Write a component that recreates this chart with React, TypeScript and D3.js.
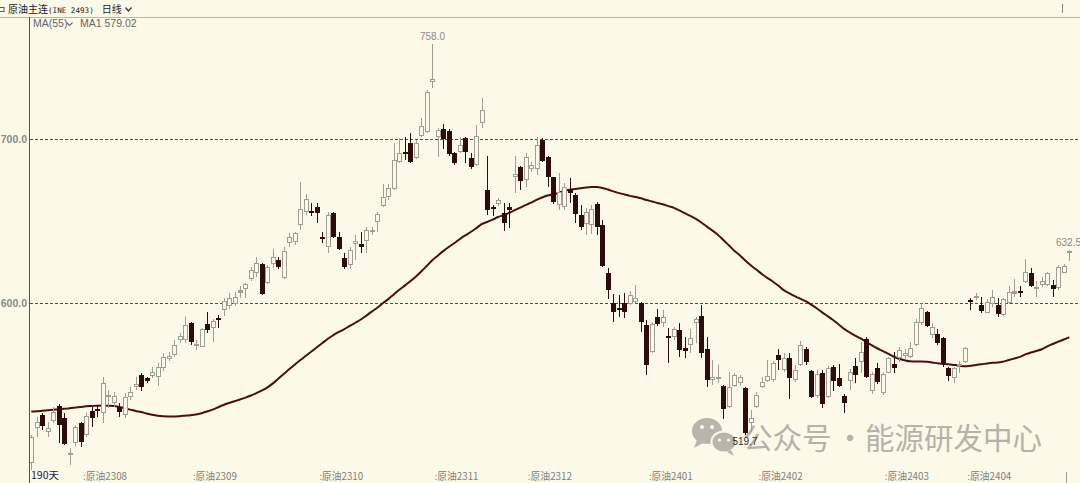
import React from 'react';
import * as d3 from 'd3';

const W = 1080;
const H = 483;
const BG = '#fdf9e8';

const opens = [
  502.4, 523.8, 531.7, 521.5, 528.0, 537.4, 529.7, 507.3, 514.4, 526.6,
  519.5, 534.3, 535.5, 532.7, 542.5, 539.2, 536.8, 531.7, 542.5, 548.6,
  556.1, 554.1, 555.5, 555.1, 560.2, 565.7, 568.3, 577.4, 577.4, 588.0,
  574.0, 573.4, 587.2, 584.5, 591.0, 595.7, 598.4, 599.4, 606.3, 608.5,
  614.6, 618.1, 623.8, 612.0, 623.8, 626.2, 615.1, 636.8, 637.4, 647.6,
  655.7, 656.3, 658.4, 640.1, 634.3, 654.7, 640.4, 627.3, 623.2, 636.0,
  636.0, 638.0, 643.3, 649.6, 659.1, 664.8, 669.3, 686.2, 692.1, 697.4,
  688.2, 701.8, 704.5, 734.9, 701.4, 706.1, 705.1, 691.6, 692.3, 700.4,
  688.2, 684.1, 709.6, 668.9, 658.4, 660.4, 654.7, 658.4, 677.0, 683.1,
  675.0, 681.5, 681.5, 699.4, 689.2, 676.6, 659.8, 658.7, 669.3, 665.9,
  653.7, 648.2, 647.6, 660.4, 647.6, 618.5, 600.2, 596.8, 600.2, 599.4,
  600.8, 600.2, 586.6, 570.3, 591.3, 588.0, 579.6, 579.1, 583.5, 572.4,
  574.4, 588.0, 592.1, 571.8, 553.0, 554.0, 549.4, 536.4, 549.4, 551.4,
  548.0, 526.6, 536.8, 549.0, 552.6, 553.0, 568.3, 559.1, 566.7, 553.0,
  562.2, 571.8, 558.7, 543.3, 557.1, 542.9, 560.8, 554.1, 543.3, 552.6,
  561.6, 564.2, 577.9, 546.6, 560.2, 545.3, 557.5, 562.8, 566.3, 567.7,
  567.3, 574.4, 587.6, 594.7, 580.5, 581.1, 578.5, 560.2, 554.1, 562.0,
  564.2, 601.6, 603.3, 598.8, 594.1, 599.4, 598.8, 592.7, 600.2, 605.5,
  607.5, 613.0, 618.5, 609.0, 611.0, 611.0, 611.0, 609.0, 618.5, 631.0,
];

const highs = [
  519.5, 530.5, 532.9, 527.6, 536.4, 538.2, 532.7, 511.4, 525.6, 527.6,
  532.7, 536.4, 537.8, 554.7, 547.0, 545.9, 538.8, 545.0, 549.0, 555.1,
  557.1, 555.1, 561.2, 563.3, 569.7, 570.3, 577.4, 581.5, 591.3, 588.6,
  577.4, 584.6, 594.3, 590.0, 592.7, 602.9, 606.3, 606.9, 610.4, 612.4,
  621.8, 627.9, 624.2, 623.2, 632.7, 627.9, 634.0, 642.5, 643.5, 674.0,
  666.5, 661.2, 661.2, 643.5, 655.7, 655.7, 643.5, 630.3, 634.3, 641.5,
  643.0, 646.5, 646.5, 655.7, 672.6, 672.6, 697.4, 700.4, 701.0, 703.5,
  699.4, 712.6, 729.9, 758.0, 706.5, 709.0, 706.1, 692.3, 701.4, 701.4,
  691.3, 708.5, 724.8, 689.6, 659.8, 663.8, 660.8, 661.2, 689.6, 683.5,
  691.6, 686.2, 701.0, 700.4, 689.6, 677.0, 679.1, 673.0, 676.0, 666.9,
  659.8, 657.7, 659.8, 661.8, 650.6, 621.2, 605.5, 604.9, 605.9, 607.5,
  611.0, 600.8, 589.6, 588.6, 596.1, 595.7, 584.6, 585.6, 587.6, 579.4,
  584.0, 591.3, 598.8, 579.4, 565.2, 562.2, 550.0, 558.1, 557.5, 556.1,
  548.6, 534.8, 545.9, 555.1, 565.2, 564.8, 571.8, 569.7, 569.7, 562.2,
  576.8, 573.4, 559.1, 559.1, 559.1, 561.6, 562.2, 562.8, 544.5, 559.6,
  566.3, 576.4, 579.1, 558.1, 563.6, 558.1, 567.3, 570.3, 573.4, 571.8,
  576.4, 590.0, 599.8, 595.3, 587.6, 584.0, 579.4, 561.2, 561.2, 564.8,
  573.4, 602.9, 606.3, 603.8, 602.3, 607.9, 602.9, 602.9, 610.4, 614.5,
  610.4, 626.6, 621.2, 613.6, 616.0, 619.1, 614.0, 623.2, 623.8, 632.5,
];

const lows = [
  498.0, 518.3, 522.6, 518.1, 526.6, 514.4, 513.4, 501.2, 512.8, 512.4,
  518.5, 524.6, 530.7, 527.0, 535.8, 536.8, 530.3, 529.7, 540.9, 547.0,
  546.6, 551.4, 554.1, 549.4, 558.7, 564.8, 566.9, 575.8, 575.8, 574.4,
  571.1, 573.0, 581.9, 576.4, 584.5, 592.1, 596.3, 598.4, 602.9, 602.9,
  613.6, 615.7, 604.9, 611.6, 621.2, 620.5, 614.5, 634.0, 635.4, 644.5,
  653.7, 653.0, 649.0, 636.4, 630.7, 639.5, 632.3, 620.5, 620.5, 626.2,
  630.7, 630.7, 641.5, 643.5, 658.7, 662.8, 668.9, 685.6, 687.2, 685.6,
  687.6, 701.4, 703.5, 730.9, 689.2, 693.7, 689.6, 684.1, 691.6, 685.2,
  681.5, 683.5, 706.5, 653.7, 653.0, 659.1, 644.1, 645.5, 666.9, 668.9,
  670.9, 680.1, 678.0, 686.2, 670.9, 660.4, 656.7, 656.7, 661.2, 649.0,
  644.5, 641.5, 642.1, 641.5, 622.1, 602.3, 588.6, 591.7, 590.7, 598.8,
  599.8, 582.5, 556.1, 569.3, 586.0, 585.6, 563.2, 577.4, 567.3, 566.3,
  569.7, 575.4, 566.3, 549.0, 550.0, 551.0, 529.1, 535.8, 548.6, 549.4,
  519.7, 521.5, 535.8, 548.0, 552.0, 552.0, 559.1, 558.1, 541.3, 552.0,
  561.6, 562.2, 541.9, 541.9, 535.8, 541.9, 546.6, 549.0, 533.1, 546.9,
  551.0, 557.1, 554.1, 544.5, 550.6, 543.9, 557.1, 557.1, 564.2, 565.7,
  566.3, 573.8, 586.6, 585.2, 578.5, 574.4, 560.8, 552.6, 551.4, 557.1,
  563.6, 595.7, 601.8, 594.1, 593.7, 597.4, 591.3, 592.1, 599.4, 603.8,
  603.5, 612.0, 609.6, 603.8, 609.6, 610.4, 603.8, 608.0, 618.1, 625.8,
];

const closes = [
  518.3, 527.4, 525.0, 524.0, 533.3, 525.6, 514.0, 507.9, 524.6, 515.4,
  531.1, 529.7, 535.0, 551.4, 543.0, 543.3, 533.7, 542.5, 545.9, 550.4,
  549.0, 552.6, 558.1, 560.8, 566.9, 567.7, 574.4, 580.1, 586.6, 576.4,
  574.2, 584.0, 583.5, 589.0, 589.6, 601.2, 602.9, 603.5, 607.5, 611.6,
  620.1, 624.6, 605.5, 622.1, 628.2, 621.8, 631.9, 640.4, 642.5, 657.1,
  663.2, 654.7, 654.7, 638.8, 653.7, 640.1, 632.9, 622.1, 632.3, 637.8,
  634.0, 644.5, 643.6, 654.3, 664.8, 670.3, 687.2, 691.6, 690.9, 686.2,
  697.4, 708.1, 728.8, 736.4, 705.5, 699.8, 690.9, 685.5, 696.3, 692.3,
  682.7, 701.8, 717.7, 656.7, 657.3, 662.8, 648.6, 656.7, 678.7, 674.6,
  688.8, 684.1, 696.3, 686.8, 677.0, 661.8, 667.9, 670.5, 667.3, 654.3,
  646.5, 655.7, 657.1, 646.2, 622.6, 607.9, 594.7, 596.6, 594.7, 604.9,
  602.9, 588.6, 562.2, 587.2, 587.2, 591.3, 579.4, 584.0, 571.3, 570.9,
  578.5, 590.0, 569.3, 553.0, 555.1, 554.2, 535.2, 548.6, 556.1, 554.7,
  520.5, 529.7, 543.9, 552.0, 555.5, 563.2, 565.2, 566.3, 554.1, 559.1,
  574.4, 564.2, 542.9, 556.7, 538.4, 560.2, 552.6, 549.4, 539.2, 558.1,
  556.1, 570.3, 555.1, 556.7, 552.0, 556.7, 566.3, 560.2, 571.3, 569.3,
  572.4, 588.6, 596.8, 586.0, 585.2, 575.4, 563.2, 555.5, 560.2, 562.3,
  572.4, 601.0, 603.5, 595.3, 600.8, 603.8, 593.3, 602.3, 606.9, 606.9,
  606.3, 619.1, 610.4, 609.2, 613.6, 618.1, 608.4, 621.8, 622.6, 631.3,
];

// MA(55) values for the first 54 bars (their window reaches before the visible range)
const maEarly = [
  533.8, 534.0, 534.3, 534.6, 534.9, 535.2, 535.5, 535.8, 536.2, 536.6,
  537.0, 537.2, 537.4, 537.5, 537.4, 537.2, 536.6, 535.8, 535.0, 534.2,
  533.5, 532.6, 531.8, 531.2, 530.9, 530.8, 530.8, 531.0, 531.3, 531.6,
  532.0, 532.8, 533.8, 535.0, 536.4, 537.8, 539.0, 540.1, 541.2, 542.3,
  543.6, 545.1, 546.7, 548.6, 551.0, 553.9, 556.8, 559.7, 562.5, 565.2,
  567.8, 570.4, 573.0, 575.6,
];
const maPeriod = 55;
const maLegendValue = 579.02;

const contractLabels = ['原油2308', '原油2309', '原油2310', '原油2311', '原油2312', '原油2401', '原油2402', '原油2403', '原油2404'];
const contractIdx = [10, 30, 53, 74, 91, 113, 133, 156, 171];
const yTicks = [600, 700];

const UP = '#a29d94';
const DOWN = '#2e0c0c';
const AXIS = '#8e3b3b';
const CJK = '"Noto Sans CJK SC", "Noto Sans", sans-serif';
const NUM = '"Liberation Sans", Arial, sans-serif';

export default function App() {
  const n = closes.length;
  const x = d3.scaleBand<number>().domain(d3.range(n)).range([28.55, 1072.05]);
  const y = d3.scaleLinear().domain([600, 700]).range([303, 139]);
  const cx = (i: number) => Math.round((x(i) as number) + x.bandwidth() / 2);

  const ma = closes.map((_, i) =>
    i < maPeriod - 1 ? maEarly[i] : (d3.mean(closes.slice(i - maPeriod + 1, i + 1)) as number)
  );
  const maLine = d3
    .line<number>()
    .x((_, i) => (x(i) as number) + x.bandwidth() / 2)
    .y((d) => y(d))
    .curve(d3.curveMonotoneX);

  const hiIdx = d3.maxIndex(highs);
  const lowLabelIdx = 130;
  const lastIdx = n - 1;

  return (
    <svg
      width={W}
      height={H}
      style={{ position: 'absolute', left: 0, top: 0, display: 'block', background: BG }}
    >
      <rect x={0} y={0} width={W} height={H} fill={BG} />

      {/* header */}
      <rect x={-1} y={7.5} width={5} height={4} fill="none" stroke="#555" />
      <text x={8} y={13} fontFamily={CJK} fontSize={10} fill="#222">
        原油主连
        <tspan fontFamily='"DejaVu Sans Mono", monospace' fontSize={7.6}>(INE 2493)</tspan>
        <tspan dx={8}>日线</tspan>
      </text>
      <path d="M125.5,7.5 L128.5,11 L131.5,7.5" fill="none" stroke="#333" strokeWidth={1.2} />
      <line x1={0} x2={W} y1={17.5} y2={17.5} stroke="#b9b5ab" />
      <line x1={1062.5} x2={1062.5} y1={4} y2={13} stroke="#888" />

      {/* MA legend */}
      <text x={33} y={27} fontFamily={NUM} fontSize={10.5} fill="#666">MA(55)</text>
      <path d="M66.5,22.5 L69.5,25.5 L72.5,22.5" fill="none" stroke="#666" strokeWidth={1.1} />
      <text x={80} y={27} fontFamily={NUM} fontSize={10.5} fill="#666">
        {`MA1 ${maLegendValue.toFixed(2)}`}
      </text>

      {/* grid lines and y labels */}
      {yTicks.map((t) => (
        <g key={t}>
          <line
            x1={30}
            x2={W}
            y1={Math.round(y(t)) + 0.5}
            y2={Math.round(y(t)) + 0.5}
            stroke="#a02c2c"
            strokeDasharray="3,2"
          />
          <text
            x={27}
            y={y(t) + 3.5}
            textAnchor="end"
            fontFamily={NUM}
            fontWeight="bold"
            fontSize={10.5}
            fill="#8a8a8a"
          >
            {t.toFixed(1)}
          </text>
        </g>
      ))}

      {/* watermark */}
      <g opacity={0.85}>
        <ellipse cx={707} cy={431} rx={15} ry={13} fill="#aeaaa2" />
        <path d="M697,440 L694,448 L703,443 Z" fill="#aeaaa2" />
        <ellipse cx={724} cy={442} rx={12.5} ry={10.5} fill="#aeaaa2" stroke={BG} strokeWidth={2} />
        <path d="M731,450 L734,456 L727,452 Z" fill="#aeaaa2" />
        <circle cx={702} cy={427} r={2} fill={BG} />
        <circle cx={712} cy={427} r={2} fill={BG} />
        <circle cx={719.5} cy={440} r={1.6} fill={BG} />
        <circle cx={728.5} cy={440} r={1.6} fill={BG} />
        <text x={743} y={449} fontFamily={CJK} fontSize={29.5} fill="#aaa69c">公众号</text>
        <text x={850} y={449} textAnchor="middle" fontFamily={CJK} fontSize={29.5} fill="#aaa69c">·</text>
        <text x={865} y={449} fontFamily={CJK} fontSize={29.5} fill="#aaa69c">能源研发中心</text>
      </g>

      {/* MA line */}
      <path d={maLine(ma) as string} fill="none" stroke="#4a0f0f" strokeWidth={2} />

      {/* candles */}
      {closes.map((c, i) => {
        const o = opens[i];
        const up = c >= o;
        const xc = cx(i);
        const yTop = Math.round(y(Math.max(o, c)));
        const yBot = Math.round(y(Math.min(o, c)));
        const yHi = Math.round(y(highs[i]));
        const yLo = Math.round(y(lows[i]));
        const col = up ? UP : DOWN;
        const bh = Math.max(1, yBot - yTop);
        return (
          <g key={i}>
            <line x1={xc + 0.5} x2={xc + 0.5} y1={yHi} y2={yLo} stroke={col} />
            {up ? (
              bh <= 2 ? (
                <rect x={xc - 2} y={yTop - 1} width={5} height={Math.max(2, bh + 1)} fill={col} />
              ) : (
                <rect x={xc - 1.5} y={yTop + 0.5} width={4} height={bh - 1} fill={BG} stroke={col} />
              )
            ) : (
              <rect x={xc - 2} y={yTop} width={5} height={Math.max(2, bh)} fill={col} />
            )}
          </g>
        );
      })}

      {/* left axis */}
      <line x1={29.5} x2={29.5} y1={17} y2={H} stroke={AXIS} />

      {/* extreme labels */}
      <text x={cx(hiIdx) + 0.5} y={40} textAnchor="middle" fontFamily={NUM} fontSize={10} fill="#8a8a8a">
        {highs[hiIdx].toFixed(1)}
      </text>
      <text x={cx(lowLabelIdx)} y={445} textAnchor="middle" fontFamily={NUM} fontSize={10} fill="#2a2a2a">
        {lows[lowLabelIdx].toFixed(1)}
      </text>
      <text x={1056} y={246} fontFamily={NUM} fontSize={10} fill="#8a8a8a">
        {highs[lastIdx].toFixed(1)}
      </text>

      {/* bottom labels */}
      <text x={31} y={479} fontFamily={CJK} fontSize={10.5} fill="#1c1c4a">190天</text>
      {contractLabels.map((lab, k) => (
        <text
          key={lab}
          x={(x(contractIdx[k]) as number) - 0.5}
          y={480}
          fontFamily={CJK}
          fontSize={9.8}
          fill="#808080"
        >
          {':' + lab}
        </text>
      ))}
      <line x1={1066.5} x2={1066.5} y1={472} y2={H} stroke="#999" />
    </svg>
  );
}
